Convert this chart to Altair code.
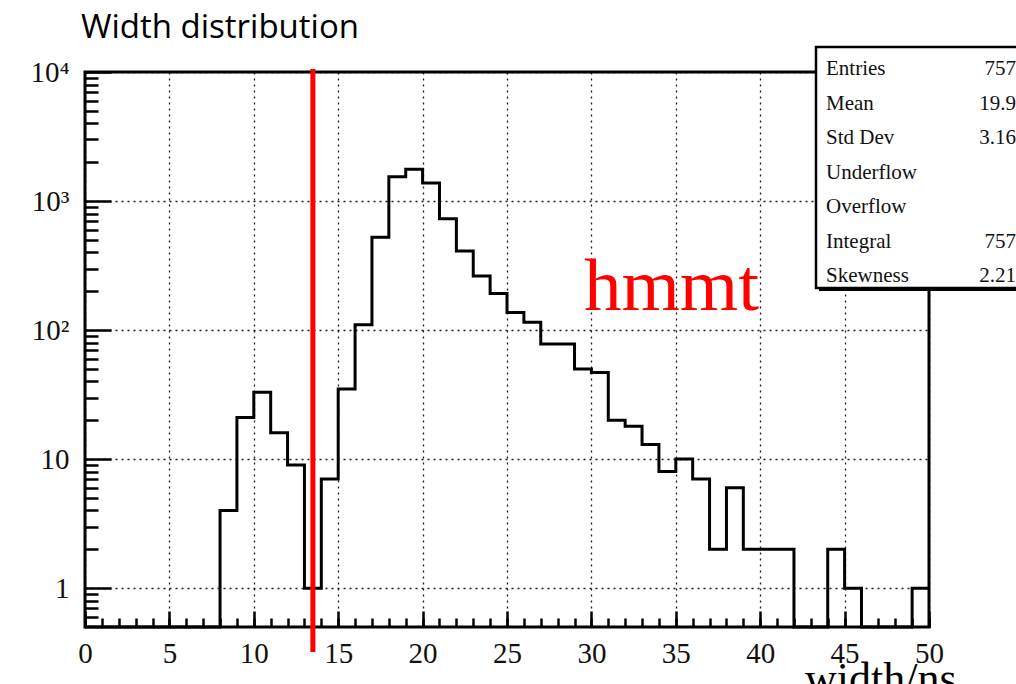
import altair as alt
import pandas as pd

# ---- histogram contents: counts per 1 ns bin, 0..50 ns ----
bin_low_edges = list(range(0, 50))
bin_counts = [
    0, 0, 0, 0, 0, 0, 0, 0,          # 0-7
    4, 21, 33, 16, 9, 1, 7,          # 8-14
    35, 110, 525, 1540, 1760, 1380,  # 15-20
    730, 410, 262, 192, 137, 115,    # 21-26
    78, 78, 50, 47, 20, 18, 13,      # 27-33
    8, 10, 7, 2, 6, 2, 2, 2,         # 34-41
    0, 0, 2, 1, 0, 0, 0, 1,          # 42-49
]
cut_value = [13.5]

# ---- axis ticks ----
x_major = [0, 5, 10, 15, 20, 25, 30, 35, 40, 45, 50]
x_minor = list(range(0, 51))
y_major = [1, 10, 100, 1000, 10000]
y_major_labels = ["1", "10", "10²", "10³", "10⁴"]
y_minor = [0.6, 0.7, 0.8, 0.9] + [m * 10 ** k for k in range(0, 4) for m in range(2, 10)]

# ---- statistics box ----
stat_names = ["Entries", "Mean", "Std Dev", "Underflow", "Overflow", "Integral", "Skewness"]
stat_values = ["757", "19.9", "3.16", "", "", "757", "2.21"]

PLOT_W, PLOT_H = 844, 555
Y_MIN, Y_MAX = 0.5, 10000
SERIF = "Liberation Serif"

# step line needs a closing point at the upper edge of the last bin
hist_df = pd.DataFrame({
    "edge": bin_low_edges + [bin_low_edges[-1] + 1],
    "count": bin_counts + [bin_counts[-1]],
})

x_scale = alt.Scale(domain=[0, 50], nice=False, zero=False)
y_scale = alt.Scale(type="log", domain=[Y_MIN, Y_MAX], nice=False)

label_expr = " : ".join(
    f"datum.value == {v} ? '{t}'" for v, t in zip(y_major, y_major_labels)
) + " : ''"

grid_style = dict(grid=True, gridColor="black", gridDash=[2, 4], gridWidth=1.3, gridOpacity=0.9)

base = alt.Chart(hist_df).transform_calculate(
    shown="max(datum.count, %s)" % Y_MIN
)

# histogram outline with labelled axes and dotted grid
hist = base.mark_line(interpolate="step-after", color="black", strokeWidth=3).encode(
    x=alt.X("edge:Q", scale=x_scale, axis=alt.Axis(
        orient="bottom", values=x_major, ticks=False, tickSize=0, domain=False,
        labelFont=SERIF, labelFontSize=29, labelColor="#111", labelPadding=12,
        labelFlush=False, title=None, **grid_style)),
    y=alt.Y("shown:Q", scale=y_scale, axis=alt.Axis(
        orient="left", values=y_major, labelExpr=label_expr, ticks=False, tickSize=0,
        domain=False, labelFont=SERIF, labelFontSize=29, labelColor="#111",
        labelPadding=16, title=None, **grid_style)),
)

# major ticks pointing into the frame
major_ticks = base.mark_point(opacity=0).encode(
    x=alt.X("edge:Q", scale=x_scale, axis=alt.Axis(
        orient="top", offset=-PLOT_H, values=x_major, tickSize=16, tickWidth=2.5,
        tickColor="black", labels=False, domain=False, grid=False, title=None)),
    y=alt.Y("shown:Q", scale=y_scale, axis=alt.Axis(
        orient="right", offset=-PLOT_W, values=y_major, tickSize=26, tickWidth=2.5,
        tickColor="black", labels=False, domain=False, grid=False, title=None)),
)

# minor ticks pointing into the frame
minor_ticks = base.mark_point(opacity=0).encode(
    x=alt.X("edge:Q", scale=x_scale, axis=alt.Axis(
        orient="top", offset=-PLOT_H, values=x_minor, tickSize=9, tickWidth=2.5,
        tickColor="black", labels=False, domain=False, grid=False, title=None)),
    y=alt.Y("shown:Q", scale=y_scale, axis=alt.Axis(
        orient="right", offset=-PLOT_W, values=y_minor, tickSize=13, tickWidth=2.5,
        tickColor="black", labels=False, domain=False, grid=False, title=None)),
)

# red cut line
cut = alt.Chart(pd.DataFrame({"cut": cut_value})).mark_rule(
    color="#ff0000", strokeWidth=5
).encode(
    x=alt.X("cut:Q", scale=x_scale, axis=None),
    y=alt.value(-3),
    y2=alt.value(PLOT_H + 25),
)

one_row = pd.DataFrame({"k": [0]})

hmmt = alt.Chart(one_row).mark_text(
    text="hmmt", font=SERIF, fontSize=75, color="#ff0000",
    align="left", baseline="alphabetic",
).encode(x=alt.value(499), y=alt.value(238))

# statistics box with drop shadow
box_left, box_right, box_top, box_bottom = 731, 990, -25, 216
shadow = alt.Chart(one_row).mark_rect(color="black").encode(
    x=alt.value(box_left + 3), x2=alt.value(box_right + 3),
    y=alt.value(box_top + 3), y2=alt.value(box_bottom + 3),
)
box = alt.Chart(one_row).mark_rect(fill="white", stroke="black", strokeWidth=2.5).encode(
    x=alt.value(box_left), x2=alt.value(box_right),
    y=alt.value(box_top), y2=alt.value(box_bottom),
)

stat_layers = []
row_step = 34.5
for i, (name, value) in enumerate(zip(stat_names, stat_values)):
    row_y = -3 + i * row_step
    stat_layers.append(alt.Chart(one_row).mark_text(
        text=name, font=SERIF, fontSize=21, color="#111", align="left", baseline="middle",
    ).encode(x=alt.value(741), y=alt.value(row_y)))
    if value:
        stat_layers.append(alt.Chart(one_row).mark_text(
            text=value, font=SERIF, fontSize=21, color="#111", align="right", baseline="middle",
        ).encode(x=alt.value(931), y=alt.value(row_y)))

title = alt.Chart(one_row).mark_text(
    text="Width distribution", font="Open Sans", fontSize=33, color="black",
    align="left", baseline="alphabetic",
).encode(x=alt.value(-4), y=alt.value(-34))

x_title = alt.Chart(one_row).mark_text(
    text="width/ns", font=SERIF, fontSize=44, color="black",
    align="left", baseline="alphabetic",
).encode(x=alt.value(720), y=alt.value(621))

chart = alt.layer(
    hist, major_ticks, minor_ticks, cut, hmmt, shadow, box, *stat_layers, title, x_title
).resolve_axis(
    x="independent", y="independent"
).properties(
    width=PLOT_W, height=PLOT_H,
    autosize=alt.AutoSizeParams(type="none"),
    padding={"left": 85, "top": 72, "right": 87, "bottom": 57},
    background="white",
).configure_view(
    stroke="black", strokeWidth=3,
)

chart.save("out.html", embed_options={"renderer": "svg", "actions": False})
